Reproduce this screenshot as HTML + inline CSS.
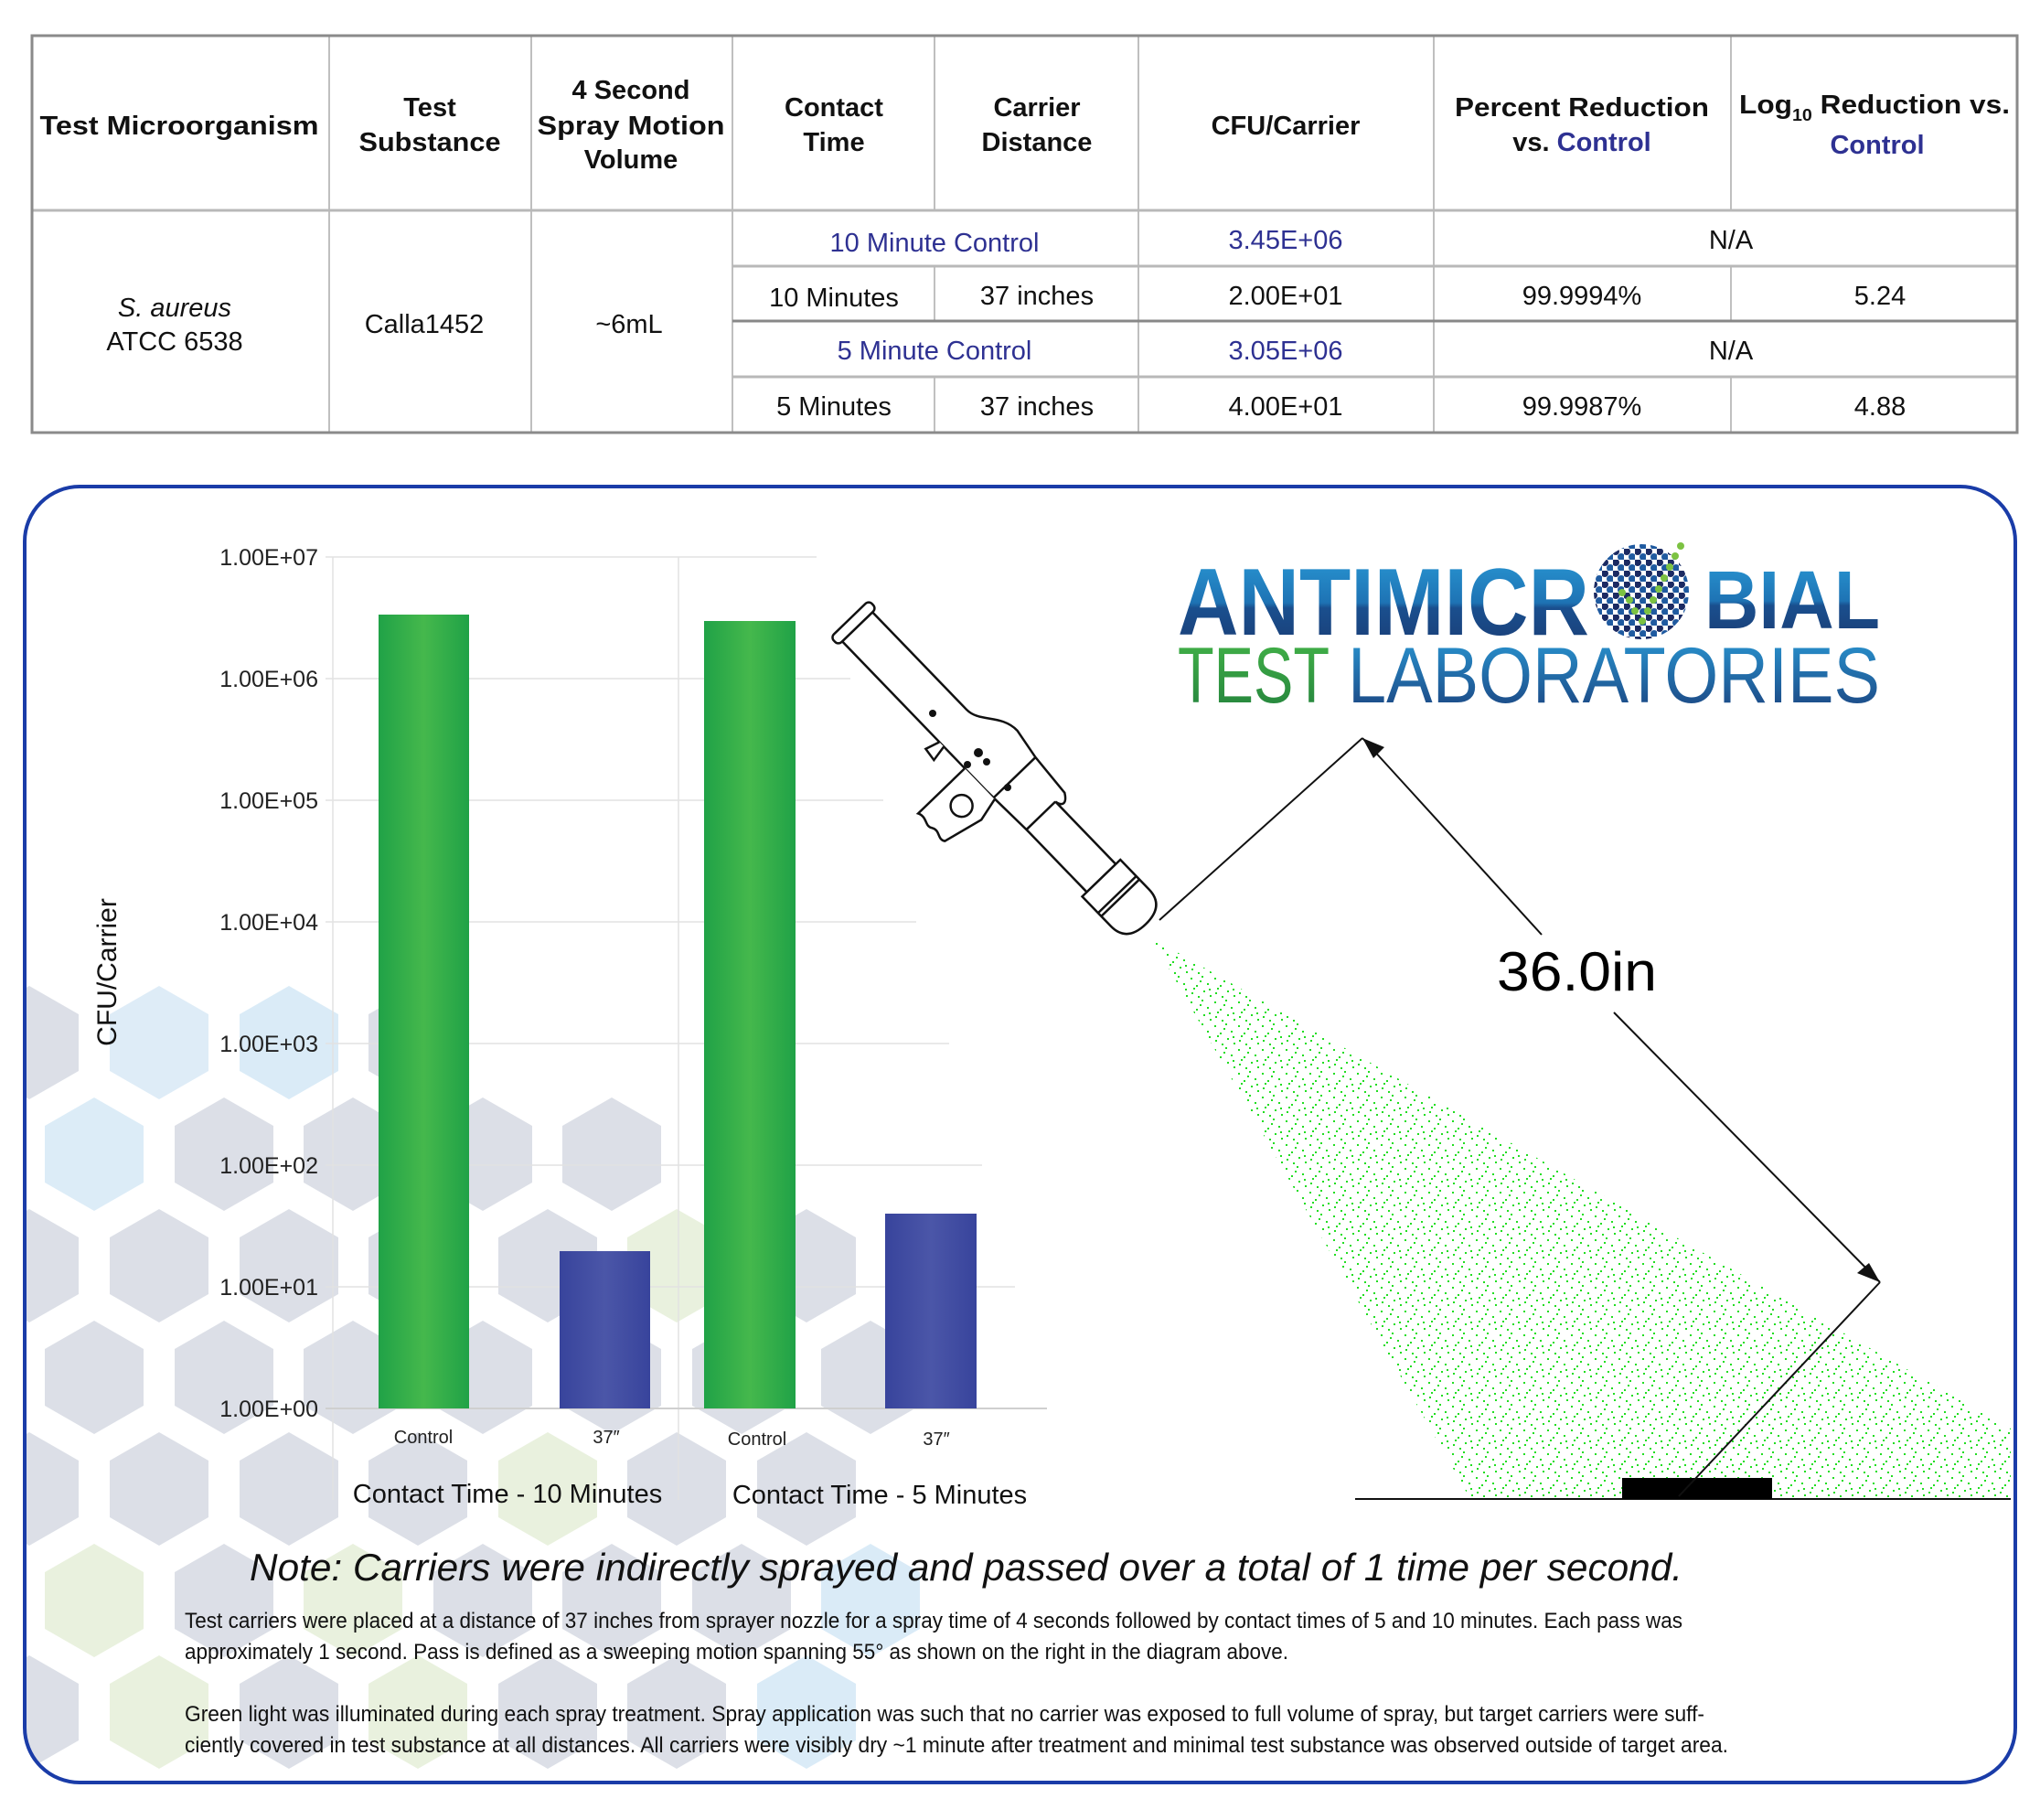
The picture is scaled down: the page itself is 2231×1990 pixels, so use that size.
<!DOCTYPE html>
<html><head><meta charset="utf-8"><style>
html,body{margin:0;padding:0;background:#fff}
svg{display:block}
text{font-family:"Liberation Sans","DejaVu Sans",sans-serif}
</style></head><body>
<svg width="2231" height="1990" viewBox="0 0 2231 1990" xmlns="http://www.w3.org/2000/svg">
<defs>
<polygon id="hx" points="0,-62 54,-31 54,31 0,62 -54,31 -54,-31"/>
<clipPath id="panel"><rect x="27" y="532" width="2177" height="1417" rx="60"/></clipPath>
<linearGradient id="gg" x1="0" x2="1"><stop offset="0" stop-color="#20a247"/><stop offset="0.5" stop-color="#45b84c"/><stop offset="1" stop-color="#20a247"/></linearGradient>
<linearGradient id="bg" x1="0" x2="1"><stop offset="0" stop-color="#38449c"/><stop offset="0.5" stop-color="#4b56a8"/><stop offset="1" stop-color="#38449c"/></linearGradient>
<linearGradient id="lg" x1="0" y1="0" x2="0" y2="1"><stop offset="0" stop-color="#2a9ad6"/><stop offset="0.5" stop-color="#1e73b4"/><stop offset="0.55" stop-color="#1a4f8e"/><stop offset="1" stop-color="#1a3b72"/></linearGradient>
<linearGradient id="lg2" x1="0" y1="0" x2="0" y2="1"><stop offset="0" stop-color="#2a9ad6"/><stop offset="1" stop-color="#1a3e7a"/></linearGradient>
<linearGradient id="gr2" x1="0" y1="0" x2="0" y2="1"><stop offset="0" stop-color="#45b549"/><stop offset="1" stop-color="#22803c"/></linearGradient>
<pattern id="dots" width="26" height="26" patternUnits="userSpaceOnUse">
<rect x="2" y="3" width="2" height="2" fill="#22dd22"/><rect x="14" y="1" width="2" height="2" fill="#22dd22"/><rect x="8" y="11" width="2" height="2" fill="#22dd22"/><rect x="20" y="9" width="2" height="2" fill="#22dd22"/><rect x="3" y="19" width="2" height="2" fill="#22dd22"/><rect x="16" y="17" width="2" height="2" fill="#22dd22"/><rect x="23" y="22" width="2" height="2" fill="#22dd22"/><rect x="10" y="23" width="2" height="2" fill="#22dd22"/><rect x="12" y="6" width="2" height="2" fill="#22dd22"/><rect x="5" y="14" width="2" height="2" fill="#22dd22"/><rect x="22" y="15" width="2" height="2" fill="#22dd22"/>
</pattern>
<pattern id="ballp" width="12" height="12" patternUnits="userSpaceOnUse">
<rect width="12" height="12" fill="#fff"/><circle cx="3" cy="3" r="4" fill="#1b2a62"/><circle cx="9" cy="9" r="4" fill="#1f5aa0"/>
</pattern>
</defs>

<!-- TABLE -->
<g stroke="#aaa" stroke-width="1.5" fill="none">
<line x1="360" y1="38" x2="360" y2="474"/><line x1="581" y1="38" x2="581" y2="474"/>
<line x1="801" y1="38" x2="801" y2="474"/><line x1="1022" y1="38" x2="1022" y2="230"/>
<line x1="1022" y1="292" x2="1022" y2="351"/><line x1="1022" y1="413" x2="1022" y2="474"/>
<line x1="1245" y1="38" x2="1245" y2="474"/><line x1="1568" y1="38" x2="1568" y2="474"/>
<line x1="1893" y1="38" x2="1893" y2="230"/><line x1="1893" y1="292" x2="1893" y2="351"/><line x1="1893" y1="413" x2="1893" y2="474"/>
</g>
<g stroke="#b8b8b8" stroke-width="3">
<line x1="34" y1="230" x2="2207" y2="230"/><line x1="801" y1="291" x2="2207" y2="291"/>
<line x1="801" y1="412" x2="2207" y2="412"/>
</g>
<line x1="801" y1="351" x2="2207" y2="351" stroke="#888" stroke-width="3"/>
<rect x="35" y="39" width="2171" height="434" fill="none" stroke="#8a8a8a" stroke-width="3"/>
<g font-size="29" font-weight="bold" fill="#111" text-anchor="middle">
<text x="196" y="147" textLength="305" lengthAdjust="spacingAndGlyphs">Test Microorganism</text>
<text x="470" y="127">Test</text><text x="470" y="165" textLength="155" lengthAdjust="spacingAndGlyphs">Substance</text>
<text x="690" y="108">4 Second</text><text x="690" y="147" textLength="205" lengthAdjust="spacingAndGlyphs">Spray Motion</text><text x="690" y="184">Volume</text>
<text x="912" y="127">Contact</text><text x="912" y="165">Time</text>
<text x="1134" y="127">Carrier</text><text x="1134" y="165">Distance</text>
<text x="1406" y="147">CFU/Carrier</text>
<text x="1730" y="127" textLength="278" lengthAdjust="spacingAndGlyphs">Percent Reduction</text>
<text x="1730" y="165">vs. <tspan fill="#2e3192">Control</tspan></text>
<text x="2050" y="124" textLength="296" lengthAdjust="spacingAndGlyphs">Log<tspan font-size="18" dy="8">10</tspan><tspan dy="-8"> Reduction vs.</tspan></text>
<text x="2053" y="168" fill="#2e3192">Control</text>
</g>
<g font-size="29" fill="#111" text-anchor="middle">
<text x="191" y="346" font-style="italic">S. aureus</text>
<text x="191" y="383">ATCC 6538</text>
<text x="464" y="364">Calla1452</text>
<text x="688" y="364">~6mL</text>
<text x="1022" y="275" fill="#2e3192">10 Minute Control</text>
<text x="1406" y="272" fill="#2e3192">3.45E+06</text>
<text x="1893" y="272">N/A</text>
<text x="912" y="335">10 Minutes</text><text x="1134" y="333">37 inches</text>
<text x="1406" y="333">2.00E+01</text><text x="1730" y="333">99.9994%</text><text x="2056" y="333">5.24</text>
<text x="1022" y="393" fill="#2e3192">5 Minute Control</text>
<text x="1406" y="393" fill="#2e3192">3.05E+06</text>
<text x="1893" y="393">N/A</text>
<text x="912" y="454">5 Minutes</text><text x="1134" y="454">37 inches</text>
<text x="1406" y="454">4.00E+01</text><text x="1730" y="454">99.9987%</text><text x="2056" y="454">4.88</text>
</g>

<!-- PANEL BACKGROUND HEXES -->
<g clip-path="url(#panel)" opacity="0.85">
<g fill="#d6dae3">
<use href="#hx" x="32" y="1140"/><use href="#hx" x="174" y="1140" fill="#d8e9f6"/><use href="#hx" x="316" y="1140" fill="#d4e8f6"/><use href="#hx" x="457" y="1140"/>
<use href="#hx" x="103" y="1262" fill="#d6e9f6"/><use href="#hx" x="245" y="1262"/><use href="#hx" x="386" y="1262"/><use href="#hx" x="528" y="1262"/><use href="#hx" x="669" y="1262"/>
<use href="#hx" x="32" y="1384"/><use href="#hx" x="174" y="1384"/><use href="#hx" x="316" y="1384"/><use href="#hx" x="457" y="1384"/><use href="#hx" x="599" y="1384"/><use href="#hx" x="740" y="1384" fill="#e6efd9"/><use href="#hx" x="882" y="1384"/>
<use href="#hx" x="103" y="1506"/><use href="#hx" x="245" y="1506"/><use href="#hx" x="386" y="1506"/><use href="#hx" x="528" y="1506"/><use href="#hx" x="669" y="1506"/><use href="#hx" x="811" y="1506"/><use href="#hx" x="952" y="1506"/>
<use href="#hx" x="32" y="1628"/><use href="#hx" x="174" y="1628"/><use href="#hx" x="316" y="1628"/><use href="#hx" x="457" y="1628"/><use href="#hx" x="599" y="1628" fill="#e6efd9"/><use href="#hx" x="740" y="1628"/><use href="#hx" x="882" y="1628"/>
<use href="#hx" x="103" y="1750" fill="#e6efd9"/><use href="#hx" x="245" y="1750"/><use href="#hx" x="386" y="1750" fill="#e6efd9"/><use href="#hx" x="528" y="1750"/><use href="#hx" x="669" y="1750"/><use href="#hx" x="811" y="1750"/><use href="#hx" x="952" y="1750" fill="#d4e8f6"/>
<use href="#hx" x="32" y="1872"/><use href="#hx" x="174" y="1872" fill="#e6efd9"/><use href="#hx" x="316" y="1872"/><use href="#hx" x="457" y="1872" fill="#e6efd9"/><use href="#hx" x="599" y="1872"/><use href="#hx" x="740" y="1872"/><use href="#hx" x="882" y="1872" fill="#d4e8f6"/>
</g>
</g>
<rect x="27" y="532" width="2177" height="1417" rx="60" fill="none" stroke="#1a3ca8" stroke-width="4"/>

<!-- CHART -->
<g stroke="#e2e2e2" stroke-width="1.5">
<line x1="356" y1="609" x2="893" y2="609"/><line x1="356" y1="742" x2="930" y2="742"/>
<line x1="356" y1="875" x2="966" y2="875"/><line x1="356" y1="1008" x2="1002" y2="1008"/>
<line x1="356" y1="1141" x2="1038" y2="1141"/><line x1="356" y1="1274" x2="1074" y2="1274"/>
<line x1="356" y1="1407" x2="1110" y2="1407"/>
<line x1="364" y1="609" x2="364" y2="1640"/><line x1="742" y1="609" x2="742" y2="1640"/>
</g>
<line x1="356" y1="1540" x2="1145" y2="1540" stroke="#cfcfcf" stroke-width="2"/>
<g font-size="25" fill="#222" text-anchor="end">
<text x="348" y="618">1.00E+07</text><text x="348" y="751">1.00E+06</text><text x="348" y="884">1.00E+05</text>
<text x="348" y="1017">1.00E+04</text><text x="348" y="1150">1.00E+03</text><text x="348" y="1283">1.00E+02</text>
<text x="348" y="1416">1.00E+01</text><text x="348" y="1549">1.00E+00</text>
</g>
<text transform="translate(127,1063) rotate(-90)" font-size="30" fill="#111" text-anchor="middle">CFU/Carrier</text>
<rect x="414" y="672" width="99" height="868" fill="url(#gg)"/>
<rect x="612" y="1368" width="99" height="172" fill="url(#bg)"/>
<rect x="770" y="679" width="100" height="861" fill="url(#gg)"/>
<rect x="968" y="1327" width="100" height="213" fill="url(#bg)"/>
<g font-size="20" fill="#222" text-anchor="middle">
<text x="463" y="1578">Control</text><text x="663" y="1578">37″</text>
<text x="828" y="1580">Control</text><text x="1024" y="1580">37″</text>
</g>
<g font-size="29" fill="#111" text-anchor="middle">
<text x="555" y="1643">Contact Time - 10 Minutes</text>
<text x="962" y="1644">Contact Time - 5 Minutes</text>
</g>

<!-- LOGO -->
<text x="1288" y="694" font-size="104" font-weight="bold" fill="url(#lg)" textLength="450" lengthAdjust="spacingAndGlyphs">ANTIMICR</text>
<text x="1864" y="687" font-size="90" font-weight="bold" fill="url(#lg)" textLength="192" lengthAdjust="spacingAndGlyphs">BIAL</text>
<circle cx="1795" cy="647" r="52" fill="url(#ballp)"/>
<g fill="#7cc242"><circle cx="1838" cy="597" r="4"/><circle cx="1832" cy="608" r="4"/><circle cx="1826" cy="620" r="4"/><circle cx="1820" cy="632" r="4"/><circle cx="1814" cy="644" r="4"/><circle cx="1808" cy="656" r="4"/><circle cx="1802" cy="668" r="4"/><circle cx="1796" cy="679" r="4"/><circle cx="1788" cy="668" r="4"/><circle cx="1782" cy="656" r="4"/><circle cx="1774" cy="648" r="4"/></g>
<text x="1288" y="768" font-size="86" fill="url(#gr2)" textLength="166" lengthAdjust="spacingAndGlyphs">TEST</text>
<text x="1474" y="768" font-size="86" fill="url(#lg2)" textLength="582" lengthAdjust="spacingAndGlyphs">LABORATORIES</text>

<!-- SPRAY -->
<polygon points="1259,1025 1608,1639 2199,1639 2199,1562" fill="url(#dots)"/>
<line x1="1482" y1="1639" x2="2199" y2="1639" stroke="#111" stroke-width="2"/>
<rect x="1774" y="1616" width="164" height="23" fill="#000"/>
<g stroke="#111" stroke-width="2" fill="none">
<line x1="1268" y1="1006" x2="1490" y2="807"/>
<line x1="1490" y1="807" x2="1686" y2="1022"/>
<line x1="1765" y1="1107" x2="2056" y2="1402"/>
<line x1="2056" y1="1402" x2="1836" y2="1636"/>
</g>
<polygon points="1490,807 1514,817 1502,829" fill="#111"/>
<polygon points="2056,1402 2031,1392 2044,1381" fill="#111"/>
<text x="1637" y="1083" font-size="60" fill="#000" textLength="175" lengthAdjust="spacingAndGlyphs">36.0in</text>

<!-- SPRAYER -->
<g transform="translate(930,676) rotate(46)" stroke="#111" stroke-width="2.5" fill="#fff">
<path d="M12,-22 L160,-22 C180,-22 190,-46 215,-46 L250,-40 L300,-36 C310,-30 310,-24 300,-22 L395,-22 L395,22 L300,22 L240,24 L175,24 L12,24 Z"/>
<line x1="250" y1="-40" x2="250" y2="24"/>
<line x1="300" y1="-22" x2="300" y2="22"/>
<rect x="0" y="-28" width="12" height="58" rx="5"/>
<path d="M395,-29 L440,-29 C460,-29 465,-15 465,0 C465,15 460,29 440,29 L395,29 Z"/>
<line x1="420" y1="-29" x2="420" y2="29"/><line x1="425" y1="-29" x2="425" y2="29"/>
<path d="M205,24 L205,95 C215,90 220,100 227,95 C235,90 240,100 247,95 L258,50 L252,24"/>
<circle cx="232" cy="55" r="12"/>
<path d="M165,24 L160,40 L175,42 L172,24"/>
</g>
<g fill="#111"><circle cx="1020" cy="780" r="4"/><circle cx="1070" cy="823" r="5"/><circle cx="1058" cy="836" r="4"/><circle cx="1102" cy="861" r="4"/><circle cx="1079" cy="833" r="4"/></g>

<!-- NOTES -->
<text x="273" y="1728" font-size="42" font-style="italic" fill="#111" textLength="1567" lengthAdjust="spacingAndGlyphs">Note: Carriers were indirectly sprayed and passed over a total of 1 time per second.</text>
<g font-size="24" fill="#111">
<text x="202" y="1780" textLength="1638" lengthAdjust="spacingAndGlyphs">Test carriers were placed at a distance of 37 inches from sprayer nozzle for a spray time of  4 seconds followed by contact times of 5 and 10 minutes. Each pass was</text>
<text x="202" y="1814" textLength="1207" lengthAdjust="spacingAndGlyphs">approximately 1 second. Pass is defined as a sweeping motion spanning 55° as shown on the right in the diagram above.</text>
<text x="202" y="1882" textLength="1662" lengthAdjust="spacingAndGlyphs">Green light was illuminated during each spray treatment. Spray application was such that no carrier was exposed to full volume of spray, but target carriers were suff-</text>
<text x="202" y="1916" textLength="1688" lengthAdjust="spacingAndGlyphs">ciently covered in test substance at all distances. All carriers were visibly dry ~1 minute after treatment and minimal test substance was observed outside of target area.</text>
</g>
</svg>
</body></html>
